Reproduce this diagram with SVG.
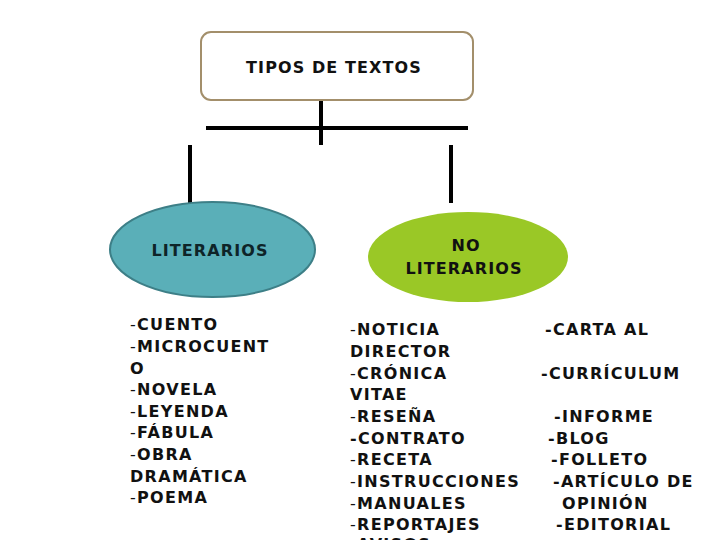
<svg xmlns="http://www.w3.org/2000/svg" width="720" height="540" viewBox="0 0 720 540">
<style>
text{font-family:"DejaVu Sans",Verdana,sans-serif;font-weight:bold;font-size:16px;letter-spacing:1.3px;fill:#111}
.h{font-weight:normal}
.t{text-anchor:middle;letter-spacing:1.1px}
.ln{stroke:#000;stroke-width:4;fill:none}
</style>
<rect width="720" height="540" fill="#fff"/>
<g id="connectors">
<line class="ln" x1="321" y1="100" x2="321" y2="145"/>
<line class="ln" x1="206" y1="128" x2="468" y2="128"/>
<line class="ln" x1="190" y1="145" x2="190" y2="203"/>
<line class="ln" x1="451" y1="145" x2="451" y2="203"/>
</g>
<g id="tipos">
<rect x="201" y="32" width="272" height="68" rx="10" fill="#fff" stroke="#a38f6b" stroke-width="2"/>
<text class="t" x="334" y="73">TIPOS DE TEXTOS</text>
</g>
<g id="literarios">
<ellipse cx="212.5" cy="249.5" rx="102.5" ry="47.5" fill="#5aafb8" stroke="#3d7f87" stroke-width="2"/>
<text class="t" x="210" y="256" style="fill:#0e2428">LITERARIOS</text>
</g>
<g id="noliterarios">
<ellipse cx="468" cy="257" rx="100" ry="45" fill="#9ac826"/>
<text class="t" x="466" y="251">NO</text>
<text class="t" x="464" y="274">LITERARIOS</text>
</g>
<g id="lista-literarios">
<text x="130" y="330"><tspan class="h">-</tspan>CUENTO</text>
<text x="130" y="352"><tspan class="h">-</tspan>MICROCUENT</text>
<text x="130" y="374">O</text>
<text x="130" y="395"><tspan class="h">-</tspan>NOVELA</text>
<text x="130" y="417"><tspan class="h">-</tspan>LEYENDA</text>
<text x="130" y="438"><tspan class="h">-</tspan>FÁBULA</text>
<text x="130" y="460"><tspan class="h">-</tspan>OBRA</text>
<text x="130" y="482">DRAMÁTICA</text>
<text x="130" y="503"><tspan class="h">-</tspan>POEMA</text>
</g>
<g id="lista-noliterarios">
<text x="350" y="335"><tspan class="h">-</tspan>NOTICIA</text>
<text x="545" y="335">-CARTA AL</text>
<text x="350" y="357">DIRECTOR</text>
<text x="350" y="379"><tspan class="h">-</tspan>CRÓNICA</text>
<text x="541" y="379">-CURRÍCULUM</text>
<text x="350" y="400">VITAE</text>
<text x="350" y="422"><tspan class="h">-</tspan>RESEÑA</text>
<text x="554" y="422">-INFORME</text>
<text x="350" y="444">-CONTRATO</text>
<text x="548" y="444">-BLOG</text>
<text x="350" y="465"><tspan class="h">-</tspan>RECETA</text>
<text x="551" y="465">-FOLLETO</text>
<text x="350" y="487"><tspan class="h">-</tspan>INSTRUCCIONES</text>
<text x="553" y="487">-ARTÍCULO DE</text>
<text x="350" y="509"><tspan class="h">-</tspan>MANUALES</text>
<text x="562" y="509">OPINIÓN</text>
<text x="350" y="530"><tspan class="h">-</tspan>REPORTAJES</text>
<text x="556" y="530">-EDITORIAL</text>
<text x="350" y="550"><tspan class="h">-</tspan>AVISOS</text>
</g>
</svg>
